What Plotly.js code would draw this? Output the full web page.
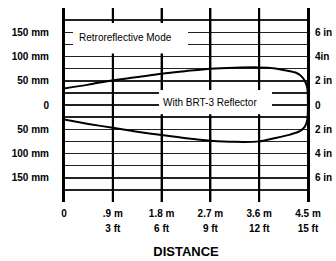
<!DOCTYPE html>
<html>
<head>
<meta charset="utf-8">
<script src="https://cdn.plot.ly/plotly-3.0.1.min.js"></script>
<style>html,body{margin:0;padding:0;background:#fff;}#chart{width:336px;height:261px;}</style>
</head>
<body>
<div id="chart"></div>
<script>
// Distance ticks (m) and labels
const distTicks = [0, 0.9, 1.8, 2.7, 3.6, 4.5];
const meterLabels = ["0", ".9 m", "1.8 m", "2.7 m", "3.6 m", "4.5 m"];
const feetLabels = ["", "3 ft", "6 ft", "9 ft", "12 ft", "15 ft"];

// Lateral ticks (mm) and labels
const mmTicks = [-150, -100, -50, 0, 50, 100, 150];
const mmLabels = ["150 mm", "100 mm", "50 mm", "0", "50 mm", "100 mm", "150 mm"];
const inLabels = ["6 in", "4 in", "2 in", "0", "2 in", "4in", "6 in"];
const minorGrid = [-175, -125, -75, -25, 25, 75, 125, 175];
const yRange = [-200, 200];

// Detection envelope: upper edge (left to right), then lower edge (right to left)
const upperDist = [0, 0.45, 0.9, 1.35, 1.8, 2.25, 2.7, 3.15, 3.6, 3.86, 4.1, 4.29, 4.38, 4.445, 4.487];
const upperMm   = [34, 42, 51, 57.5, 64.5, 70, 75, 77, 77.5, 76, 71, 66, 59, 49, 35];
const lowerDist = [4.487, 4.445, 4.35, 4.17, 3.86, 3.6, 3.15, 2.7, 2.25, 1.8, 1.35, 0.9, 0.45, 0];
const lowerMm   = [-30, -44, -54, -61, -69, -75, -76, -73.5, -68.5, -62, -55, -47, -39, -30];

const envX = upperDist.concat(lowerDist);
const envY = upperMm.concat(lowerMm);

const tickFont = {family: "Liberation Sans, Arial, sans-serif", size: 10, color: "#000", weight: "bold"};

const data = [
  // vertical grid lines drawn as one line trace with gaps, at each distance tick
  {x: distTicks.flatMap(v => [v, v, null]),
   y: distTicks.flatMap(() => [yRange[0], yRange[1], null]),
   type: "scatter", mode: "lines", line: {color: "#000000", width: 2},
   hoverinfo: "skip", showlegend: false},
  {x: envX, y: envY, type: "scatter", mode: "lines",
   line: {color: "#000", width: 2, shape: "spline", smoothing: 0.8},
   hoverinfo: "skip", showlegend: false},
  {x: [0], y: [0], xaxis: "x2", yaxis: "y2", type: "scatter", mode: "markers",
   marker: {opacity: 0}, hoverinfo: "skip", showlegend: false}
];

const layout = {
  width: 336, height: 261,
  margin: {l: 64, r: 28, t: 8, b: 59},
  paper_bgcolor: "#fff", plot_bgcolor: "#fff",
  showlegend: false,
  xaxis: {
    range: [0, 4.5], tickmode: "array", tickvals: distTicks, ticktext: meterLabels,
    showgrid: true, gridcolor: "#000000", gridwidth: 2, zeroline: false, showline: false,
    ticks: "", tickfont: tickFont, ticklabelstandoff: 4,
    title: {text: "DISTANCE", standoff: 28,
            font: {family: "Liberation Sans, Arial, sans-serif", size: 13, color: "#000", weight: "bold"}},
    fixedrange: true
  },
  xaxis2: {
    overlaying: "x", anchor: "y", side: "bottom",
    range: [0, 4.5], tickmode: "array", tickvals: distTicks, ticktext: feetLabels,
    showgrid: false, zeroline: false, showline: false, ticks: "",
    tickfont: tickFont, ticklabelstandoff: 19, fixedrange: true
  },
  yaxis: {
    range: yRange, tickmode: "array", tickvals: mmTicks, ticktext: mmLabels,
    showgrid: true, gridcolor: "#222", gridwidth: 1.5, zeroline: false,
    showline: true, linecolor: "#000", linewidth: 2,
    ticks: "", tickfont: tickFont, ticklabelstandoff: 11,
    minor: {tickmode: "array", tickvals: minorGrid, showgrid: true, gridcolor: "#222", gridwidth: 1.5, ticks: ""},
    fixedrange: true
  },
  yaxis2: {
    overlaying: "y", side: "right", anchor: "x",
    range: yRange, tickmode: "array", tickvals: mmTicks, ticktext: inLabels,
    showgrid: false, zeroline: false, showline: true, linecolor: "#000", linewidth: 2,
    ticks: "", tickfont: tickFont, ticklabelstandoff: 3, fixedrange: true
  },
  shapes: [
    {type: "rect", xref: "x", yref: "y", x0: 0.166, x1: 2.287, y0: 106, y1: 169,
     fillcolor: "#fff", line: {width: 0}, layer: "above"},
    {type: "rect", xref: "x", yref: "y", x0: 1.752, x1: 3.836, y0: -19, y1: 31,
     fillcolor: "#fff", line: {width: 0}, layer: "above"}
  ],
  annotations: [
    {x: 1.125, y: 139, xref: "x", yref: "y", text: "Retroreflective Mode", showarrow: false,
     font: {family: "Liberation Sans, Arial, sans-serif", size: 10, color: "#000"}},
    {x: 2.69, y: 5, xref: "x", yref: "y", text: "With BRT-3 Reflector", showarrow: false,
     font: {family: "Liberation Sans, Arial, sans-serif", size: 10, color: "#000"}}
  ]
};

Plotly.newPlot("chart", data, layout, {displayModeBar: false, staticPlot: true});
</script>
</body>
</html>
